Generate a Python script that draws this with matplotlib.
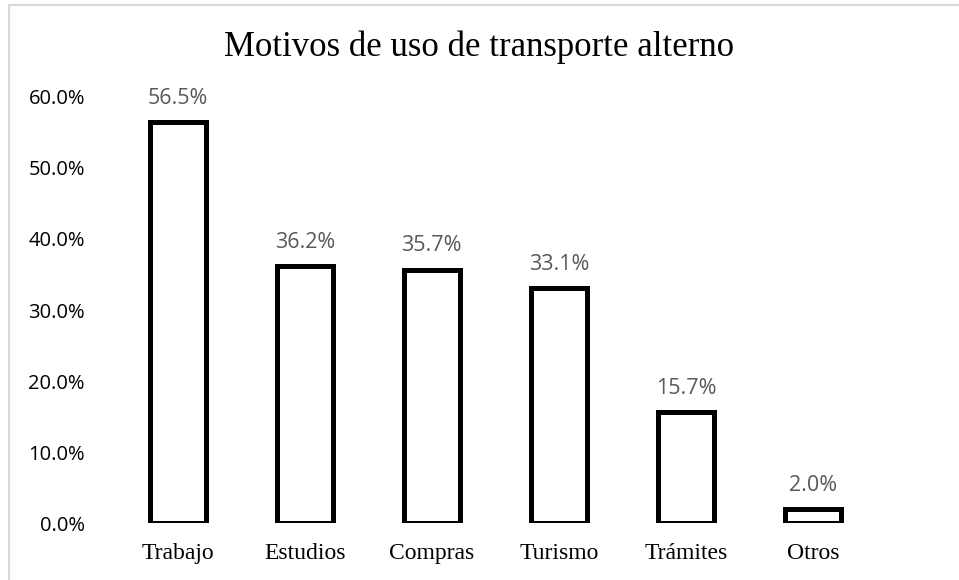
import matplotlib.pyplot as plt
from matplotlib.lines import Line2D

categorias = ["Trabajo", "Estudios", "Compras", "Turismo", "Trámites", "Otros"]
valores = [56.5, 36.2, 35.7, 33.1, 15.7, 2.0]
ticks_y = [0, 10, 20, 30, 40, 50, 60]

fig = plt.figure(figsize=(9.59, 5.8), dpi=100)
ax = fig.add_axes([0.119, 0.098, 0.795, 0.735])

x = range(len(categorias))
ax.bar(x, valores, width=0.44, color="white", edgecolor="black", linewidth=3.6)

# etiquetas de datos
for i, v in zip(x, valores):
    ax.annotate(f"{v:.1f}%", (i, v), xytext=(0, 17), textcoords="offset points",
                ha="center", va="center", fontsize=15.5, color="#595959",
                family="Open Sans")

ax.set_xlim(-0.5, len(categorias) - 0.5)
ax.set_ylim(0, 60)
ax.set_yticks(ticks_y)
ax.set_yticklabels([f"{t:.1f}%" for t in ticks_y], family="Open Sans", fontsize=14.5)
ax.set_xticks(list(x))
ax.set_xticklabels(categorias, family="Liberation Serif", fontsize=17)
ax.tick_params(length=0)
ax.tick_params(axis="x", pad=14)
ax.tick_params(axis="y", pad=21)
for s in ax.spines.values():
    s.set_visible(False)

fig.text(0.5, 0.918, "Motivos de uso de transporte alterno", ha="center", va="center",
         family="Liberation Serif", fontsize=25)

# borde del gráfico (solo se ve arriba e izquierda)
borde = "#d9d9d9"
fig.add_artist(Line2D([0.009, 0.009], [0.0, 0.991], transform=fig.transFigure,
                      color=borde, linewidth=1.5))
fig.add_artist(Line2D([0.009, 1.0], [0.991, 0.991], transform=fig.transFigure,
                      color=borde, linewidth=1.5))

fig.savefig("out.png", dpi=100)
